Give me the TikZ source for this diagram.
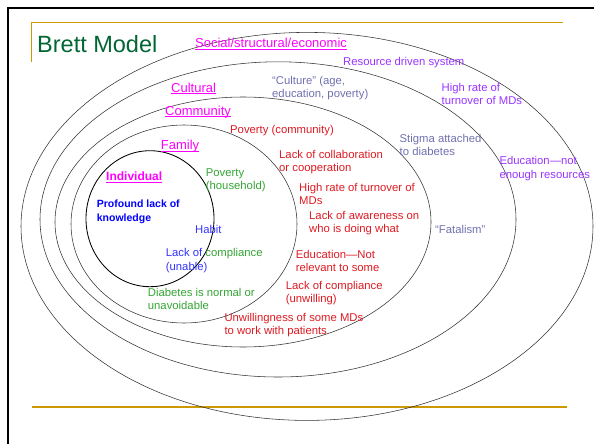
\documentclass[tikz,border=0pt]{standalone}
\usepackage{fontspec}
\setmainfont{Liberation Sans}
\definecolor{magC}{RGB}{255,0,255}
\definecolor{vioC}{RGB}{153,51,255}
\definecolor{gbC}{RGB}{112,112,176}
\definecolor{redC}{RGB}{221,26,34}
\definecolor{grnC}{RGB}{51,165,51}
\definecolor{bluC}{RGB}{0,0,255}
\definecolor{blu2C}{RGB}{51,51,255}
\definecolor{titC}{RGB}{0,102,51}
\definecolor{goldC}{RGB}{204,153,0}
\begin{document}
\begin{tikzpicture}[x=1pt,y=-1pt,
  ring/.style={draw=black!80,line width=0.55pt},
  txt/.style={anchor=west,inner sep=0pt,align=left,font=\fontsize{11.3}{13.4}\selectfont},
  lvl/.style={anchor=west,inner sep=0pt,text=magC,font=\fontsize{13}{15}\selectfont},
  uline/.style={draw=magC,line width=0.9pt}]
\useasboundingbox (0,0) rectangle (594,444);
% frame
\draw[line width=2.7pt] (594,8) -- (8,8) -- (8,444);
\draw[goldC,line width=1.2pt] (31.5,62) -- (31.5,22.5) -- (563,22.5);
\draw[goldC,line width=2pt] (32,407) -- (567,407);
% rings
\draw[ring] (307,226.4) ellipse [x radius=286,y radius=194];
\draw[ring] (278,219.4) ellipse [x radius=238,y radius=157.6];
\draw[ring] (243,222) ellipse [x radius=188,y radius=125];
\draw[ring] (184,224) ellipse [x radius=113,y radius=99];
\draw[black,line width=0.85pt] (150,218.7) ellipse [x radius=64,y radius=68];
% title
\node[anchor=west,inner sep=0pt,text=titC,font=\fontsize{23.5}{26}\selectfont] (title) at (37,44) {Brett Model};
% level labels
\node[lvl] (social) at (195,43) {Social/structural/economic};
\node[lvl] (cultural) at (171,87.5) {Cultural};
\node[lvl] (community) at (165,111.7) {Community};
\node[lvl] (family) at (160.7,146) {Family};
\node[lvl,font=\fontsize{12}{14}\selectfont\bfseries] (individual) at (106,176.7) {Individual};
\foreach \n in {social,cultural,community,family,individual}
  \draw[uline] ([yshift=-1.6pt]\n.base west) -- ([yshift=-1.6pt]\n.base east);
% texts
\node[txt,text=vioC] (resource) at (343,62.3) {Resource driven system};
\node[txt,text=gbC] (culture) at (272,88) {“Culture” (age,\\education, poverty)};
\node[txt,text=vioC] (highrate) at (441.5,94.2) {High rate of\\turnover of MDs};
\node[txt,text=redC] (povcomm) at (230,131) {Poverty (community)};
\node[txt,text=gbC] (stigma) at (399.5,144.7) {Stigma attached\\to diabetes};
\node[txt,text=redC] (collab) at (279,162) {Lack of collaboration\\or cooperation};
\node[txt,text=vioC] (educnot) at (499.3,168.7) {Education—not\\enough resources};
\node[txt,text=grnC] (povhouse) at (205.7,180) {Poverty\\(household)};
\node[txt,text=bluC,font=\fontsize{10.5}{13.3}\selectfont\bfseries] (profound) at (96.7,211.7) {Profound lack of\\knowledge};
\node[txt,text=redC] (turnover) at (299,194) {High rate of turnover of\\MDs};
\node[txt,text=redC] (awareness) at (309,223.2) {Lack of awareness on\\who is doing what};
\node[txt,text=blu2C] (habit) at (195,229) {Habit};
\node[txt,text=gbC] (fatalism) at (435,229) {“Fatalism”};
\node[txt,text=blu2C] (unable) at (165.7,260.7) {Lack of \textcolor{grnC}{compliance}\\(unable)};
\node[txt,text=redC] (educrel) at (295.7,261) {Education—Not\\relevant to some};
\node[txt,text=grnC] (normal) at (147.7,299) {Diabetes is normal or\\unavoidable};
\node[txt,text=redC] (unwill) at (285.7,293) {Lack of compliance\\(unwilling)};
\node[txt,text=redC] (mds) at (224.3,325.2) {Unwillingness of some MDs\\to work with patients};
\end{tikzpicture}
\end{document}
